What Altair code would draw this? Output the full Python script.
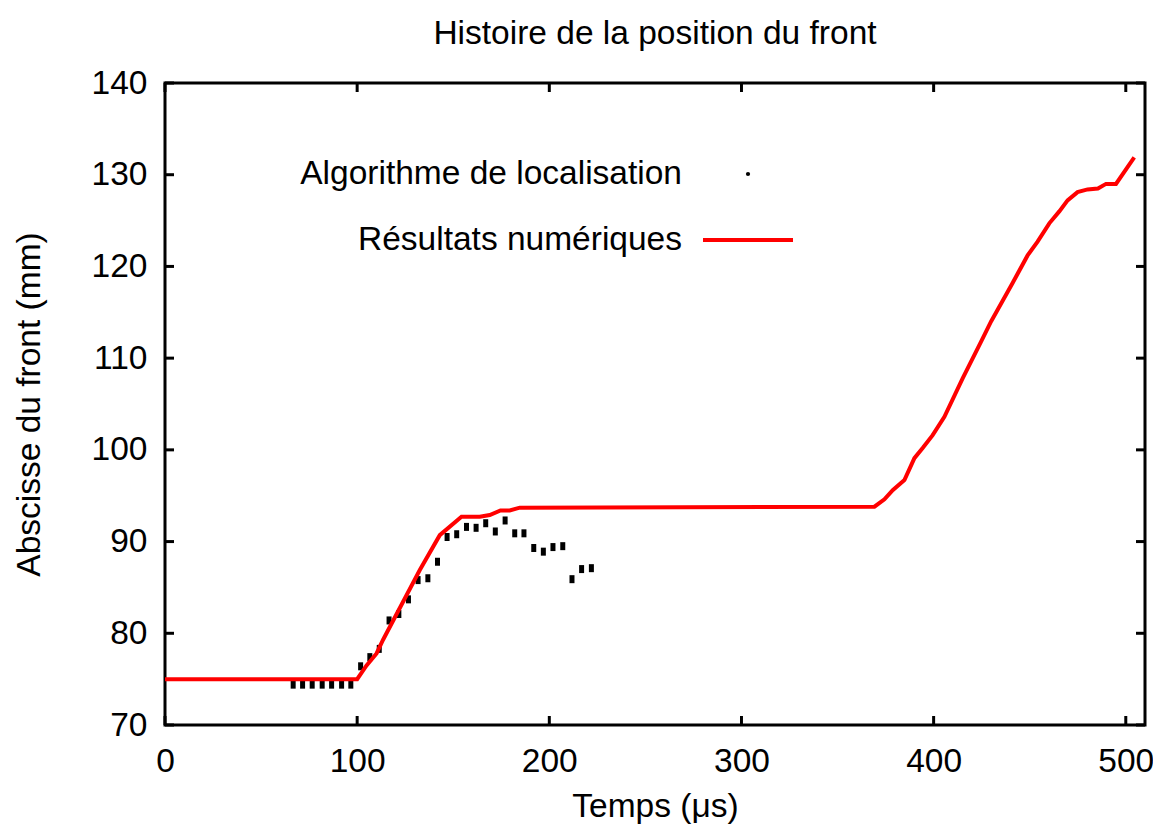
import altair as alt
import pandas as pd

# Algorithme de localisation (black dots)
loc_t = [66.7, 71.6, 76.6, 81.8, 86.7, 91.9, 96.7, 101.8, 106.6, 111.5, 116.6, 121.7,
         126.7, 131.7, 136.8, 141.8, 146.8, 151.8, 156.9, 161.9, 166.9, 171.9, 177.0,
         182.0, 186.8, 191.9, 196.9, 201.9, 207.0, 211.8, 216.8, 221.9]
loc_y = [74.4, 74.4, 74.4, 74.4, 74.4, 74.4, 74.4, 76.4, 77.4, 78.3, 81.4, 82.1,
         83.7, 85.8, 86.0, 87.8, 90.5, 90.8, 91.6, 91.5, 92.0, 91.1, 92.3,
         90.9, 90.9, 89.3, 88.9, 89.4, 89.5, 85.9, 87.0, 87.1]

# Résultats numériques (red line)
num_t = [0, 100, 104.9, 110.1, 113.5, 132.6, 143.0, 154.3, 163.8, 169.0, 174.6, 179.4,
         184.6, 369.2, 374.4, 378.7, 384.8, 390.0, 394.3, 399.5, 405.6, 415.1, 424.7,
         429.9, 441.1, 448.9, 454.1, 460.2, 465.4, 469.7, 474.9, 480.1, 485.5, 489.7,
         494.9, 504.4]
num_y = [75.0, 75.0, 76.5, 77.8, 79.3, 86.9, 90.7, 92.7, 92.7, 92.9, 93.4, 93.4,
         93.7, 93.8, 94.6, 95.6, 96.7, 99.1, 100.2, 101.6, 103.6, 107.8, 111.8,
         114.0, 118.2, 121.2, 122.7, 124.7, 126.0, 127.2, 128.1, 128.4, 128.5, 129.0,
         129.0, 131.9]

x_ticks = [0, 100, 200, 300, 400, 500]
y_ticks = [70, 80, 90, 100, 110, 120, 130, 140]
x_domain = [0, 510]
y_domain = [70, 140]

legend_labels = ["Algorithme de localisation", "Résultats numériques"]
title_text = "Histoire de la position du front"
x_title = "Temps (μs)"
y_title = "Abscisse du front (mm)"

W, H = 980, 642
FONT = "Liberation Sans"
FS = 33.5
TICK = 9

xs = alt.Scale(domain=x_domain, nice=False, zero=False)
ys = alt.Scale(domain=y_domain, nice=False, zero=False)

x_axis = alt.Axis(values=x_ticks, tickSize=0, domain=False, grid=False, labelFlush=False,
                  labelFontSize=FS, labelFont=FONT, labelColor="black", labelPadding=20,
                  title=x_title, titleFont=FONT, titleFontSize=FS, titleFontWeight="normal",
                  titleColor="black", titleX=W / 2, titleY=91, titleBaseline="alphabetic",
                  titleAlign="center")
y_axis = alt.Axis(values=y_ticks, tickSize=0, domain=False, grid=False, labelFlush=False,
                  labelFontSize=FS, labelFont=FONT, labelColor="black", labelPadding=18,
                  title=y_title, titleFont=FONT, titleFontSize=FS, titleFontWeight="normal",
                  titleColor="black", titleX=-126, titleY=H / 2, titleBaseline="alphabetic",
                  titleAlign="center", titleAngle=-90)

X = alt.X("t:Q", scale=xs, axis=x_axis)
Y = alt.Y("y:Q", scale=ys, axis=y_axis)

df_loc = pd.DataFrame({"t": loc_t, "y": loc_y})
df_num = pd.DataFrame({"t": num_t, "y": num_y})
df_xt = pd.DataFrame({"t": x_ticks})
df_yt = pd.DataFrame({"y": y_ticks})

dots = alt.Chart(df_loc).mark_tick(orient="vertical", size=8, thickness=5, color="black",
                                   opacity=1).encode(x=X, y=Y)
line = alt.Chart(df_num).mark_line(color="#ff0000", strokeWidth=4, clip=True).encode(x=X, y=Y)

bx = alt.Chart(df_xt).mark_rule(color="black", strokeWidth=3).encode(
    x=X, y=alt.value(H), y2=alt.value(H - TICK))
tx = alt.Chart(df_xt).mark_rule(color="black", strokeWidth=3).encode(
    x=X, y=alt.value(0), y2=alt.value(TICK))
ly = alt.Chart(df_yt).mark_rule(color="black", strokeWidth=3).encode(
    y=Y, x=alt.value(0), x2=alt.value(TICK))
ry = alt.Chart(df_yt).mark_rule(color="black", strokeWidth=3).encode(
    y=Y, x=alt.value(W), x2=alt.value(W - TICK))

df_leg = pd.DataFrame({"label": legend_labels})
leg1 = alt.Chart(df_leg).transform_filter(
    alt.datum.label == legend_labels[0]).mark_text(
    align="right", baseline="middle", font=FONT, fontSize=FS, color="black").encode(
    text="label:N", x=alt.value(517), y=alt.value(91))
leg2 = alt.Chart(df_leg).transform_filter(
    alt.datum.label == legend_labels[1]).mark_text(
    align="right", baseline="middle", font=FONT, fontSize=FS, color="black").encode(
    text="label:N", x=alt.value(517), y=alt.value(157))
leg_dot = alt.Chart(df_leg).transform_filter(
    alt.datum.label == legend_labels[0]).mark_circle(size=18, color="black", opacity=1).encode(
    x=alt.value(583), y=alt.value(91))
leg_line = alt.Chart(df_leg).transform_filter(
    alt.datum.label == legend_labels[1]).mark_rule(color="#ff0000", strokeWidth=4).encode(
    x=alt.value(538), x2=alt.value(628), y=alt.value(157))

chart = alt.layer(dots, line, bx, tx, ly, ry, leg1, leg2, leg_dot, leg_line).properties(
    width=W, height=H,
    title=alt.TitleParams(title_text, font=FONT, fontSize=FS, fontWeight="normal",
                          color="black", anchor="middle", offset=15),
    autosize=alt.AutoSizeParams(type="none"),
    padding={"left": 157, "top": 75, "right": 8, "bottom": 103},
    background="white",
).configure_view(stroke="black", strokeWidth=3)

chart.save("out.html", embed_options={"renderer": "svg", "actions": False})
